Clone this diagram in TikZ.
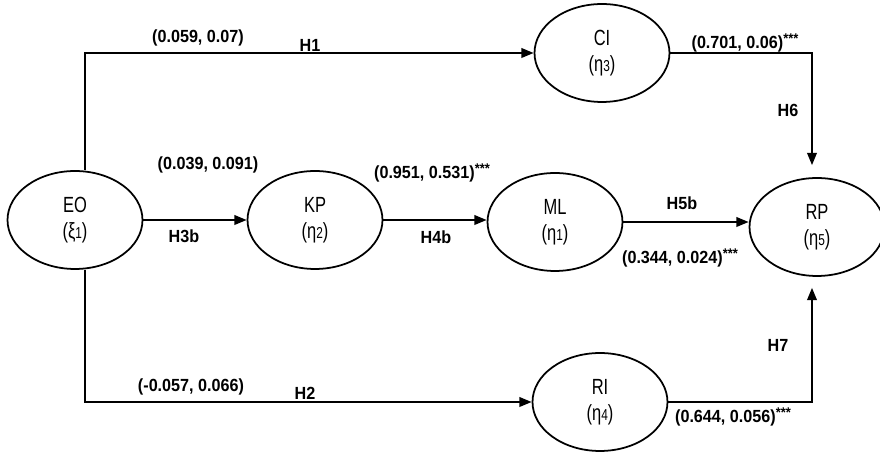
\documentclass[tikz,border=0pt]{standalone}
\usepackage{fontspec}
\setmainfont{Liberation Sans}[FakeStretch=0.92]
\newfontfamily\latentfont{Liberation Sans}[FakeStretch=0.75]
\usetikzlibrary{arrows.meta, shapes.geometric, positioning}
\newcommand{\idx}[1]{{\fontsize{9}{9}\selectfont #1}}
\newcommand{\sig}{\raisebox{0.5ex}{\fontsize{8}{8}\selectfont ***}}

\tikzset{
  latent/.style={draw, ellipse, line width=1pt, minimum width=2.7cm,
    minimum height=1.96cm, inner sep=0pt, align=center,
    font=\latentfont\fontsize{12.5}{14.5}\selectfont},
  effect/.style={line width=1pt, -{Triangle[length=7pt,width=5.5pt]}},
  coef/.style={inner sep=0pt, font=\bfseries\fontsize{10}{12}\selectfont}
}

\begin{document}
\begin{tikzpicture}[x=0.02cm, y=-0.02cm]
\useasboundingbox (0,0) rectangle (880,455);

% Latent variables
\node[latent] (EO) at (75,220) {EO\\(ξ\idx{1})};
\node[latent] (KP) at (315,220) {KP\\(η\idx{2})};
\node[latent] (ML) at (555,222) {ML\\(η\idx{1})};
\node[latent] (CI) at (602,53) {CI\\(η\idx{3})};
\node[latent] (RI) at (600,402) {RI\\(η\idx{4})};
\node[latent] (RP) at (817,227) {RP\\(η\idx{5})};

% Middle chain
\draw[effect] (EO) -- (KP);
\draw[effect] (KP.east) -- (KP.east -| ML.west);
\draw[effect] (ML.east) -- (ML.east -| RP.west);

% Upper and lower branches
\draw[effect] ([xshift=0.2cm]EO.north) |- (CI.west);
\draw[effect] ([xshift=0.2cm]EO.south) |- (RI.west);
\draw[effect, shorten >=0.24cm] (CI.east) -| ([xshift=-0.1cm]RP.north);
\draw[effect, shorten >=0.22cm] (RI.east) -| ([xshift=-0.1cm]RP.south);

% Path coefficients
\node[coef] (c1) at (198,38) {(0.059, 0.07)};
\node[coef] (h1) at (310,45) {H1};
\node[coef] (c3b) at (208,165) {(0.039, 0.091)};
\node[coef] (h3b) at (184,236) {H3b};
\node[coef] (c4b) at (432,173) {(0.951, 0.531)\sig};
\node[coef] (h4b) at (436,237) {H4b};
\node[coef] (c6) at (745,43) {(0.701, 0.06)\sig};
\node[coef] (h6) at (788,110) {H6};
\node[coef] (h5b) at (682,203) {H5b};
\node[coef] (c5b) at (680,258) {(0.344, 0.024)\sig};
\node[coef] (c2) at (191,387) {(-0.057, 0.066)};
\node[coef] (h2) at (305,393) {H2};
\node[coef] (c7) at (733,417) {(0.644, 0.056)\sig};
\node[coef] (h7) at (778,345) {H7};
\end{tikzpicture}
\end{document}
